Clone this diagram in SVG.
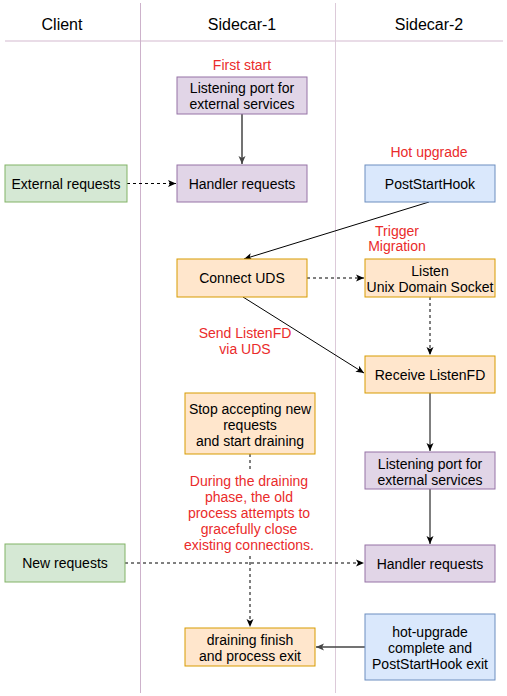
<svg xmlns="http://www.w3.org/2000/svg" width="507" height="696" viewBox="0 0 507 696">
<style>
.t{font-family:"Liberation Sans",Arial,Helvetica,sans-serif;font-size:14px;fill:#000;text-anchor:middle}
.h{font-family:"Liberation Sans",Arial,Helvetica,sans-serif;font-size:16px;fill:#000;text-anchor:middle}
.r{font-family:"Liberation Sans",Arial,Helvetica,sans-serif;font-size:14px;fill:#EA2B2B;text-anchor:middle}
.p{fill:#e1d5e7;stroke:#9673a6;stroke-width:1}
.g{fill:#d5e8d4;stroke:#82b366;stroke-width:1}
.b{fill:#dae8fc;stroke:#6c8ebf;stroke-width:1}
.o{fill:#ffe6cc;stroke:#d79b00;stroke-width:1}
.e{fill:none;stroke:#000;stroke-width:1}
.d{fill:none;stroke:#000;stroke-width:1;stroke-dasharray:3 3}
.gr{fill:none;stroke:#444;stroke-width:1.5}
</style>
<defs>
<marker id="a" markerWidth="10" markerHeight="10" refX="9" refY="5" orient="auto" markerUnits="userSpaceOnUse">
<path d="M1,1.5 L9,5 L1,8.5 L3,5 Z" fill="#000"/>
</marker>
<marker id="ag" markerWidth="10" markerHeight="10" refX="9" refY="5" orient="auto" markerUnits="userSpaceOnUse">
<path d="M1,1.5 L9,5 L1,8.5 L3,5 Z" fill="#444"/>
</marker>
</defs>
<rect x="0" y="0" width="507" height="696" fill="#fff"/>
<g id="lanes">
<line x1="5" y1="41" x2="503" y2="41" stroke="#E2D0DF" stroke-width="1.5"/>
<line x1="140.5" y1="3" x2="140.5" y2="693" stroke="#CDB2CB" stroke-width="1"/>
<line x1="335.5" y1="3" x2="335.5" y2="693" stroke="#DCCAD9" stroke-width="1"/>
<text class="h" x="62" y="29.5">Client</text>
<text class="h" x="242" y="29.5">Sidecar-1</text>
<text class="h" x="429" y="29.5">Sidecar-2</text>
</g>
<g id="labels">
<text class="r" x="242" y="70">First start</text>
<text class="r" x="429" y="157">Hot upgrade</text>
<text class="r" x="397" y="236">Trigger</text>
<text class="r" x="397" y="251">Migration</text>
<text class="r" x="245" y="338">Send ListenFD</text>
<text class="r" x="245" y="354">via UDS</text>
</g>
<g id="connectors">
<line class="gr" x1="242" y1="114" x2="242" y2="164" marker-end="url(#ag)"/>
<line class="d" x1="127" y1="183.5" x2="176" y2="183.5" marker-end="url(#a)"/>
<line class="e" x1="429" y1="202" x2="244" y2="259" marker-end="url(#a)"/>
<line class="d" x1="307" y1="278" x2="364" y2="278" marker-end="url(#a)"/>
<line class="d" x1="430" y1="297" x2="430" y2="355" marker-end="url(#a)"/>
<line class="e" x1="243" y1="297" x2="364" y2="373" marker-end="url(#a)"/>
<line class="e" x1="430" y1="393" x2="430" y2="451" marker-end="url(#a)"/>
<line class="e" x1="430" y1="489" x2="430" y2="544" marker-end="url(#a)"/>
<line class="d" x1="250" y1="454" x2="250" y2="627" marker-end="url(#a)"/>
<line class="d" x1="125" y1="563" x2="364" y2="563" marker-end="url(#a)"/>
<line class="gr" x1="365" y1="647" x2="316" y2="647" marker-end="url(#ag)"/>
</g>
<g id="drain-label">
<rect x="182" y="470" width="136" height="84" fill="#fff"/>
<text class="r" x="249" y="486">During the draining</text>
<text class="r" x="249" y="502">phase, the old</text>
<text class="r" x="249" y="518">process attempts to</text>
<text class="r" x="249" y="534">gracefully close</text>
<text class="r" x="249" y="550">existing connections.</text>
</g>
<g id="listen1">
<rect class="p" x="177" y="77" width="130" height="37"/>
<text class="t" x="242" y="93">Listening port for</text>
<text class="t" x="242" y="109">external services</text>
</g>
<g id="ext">
<rect class="g" x="5" y="165" width="122" height="37"/>
<text class="t" x="66" y="188.5">External requests</text>
</g>
<g id="handler1">
<rect class="p" x="177" y="165" width="130" height="37"/>
<text class="t" x="242" y="188.5">Handler requests</text>
</g>
<g id="poststart">
<rect class="b" x="365" y="165" width="130" height="37"/>
<text class="t" x="430" y="188.5">PostStartHook</text>
</g>
<g id="connect">
<rect class="o" x="177" y="259" width="130" height="38"/>
<text class="t" x="242" y="283">Connect UDS</text>
</g>
<g id="listenuds">
<rect class="o" x="365" y="259" width="130" height="38"/>
<text class="t" x="430" y="276">Listen</text>
<text class="t" x="430" y="292">Unix Domain Socket</text>
</g>
<g id="receive">
<rect class="o" x="365" y="356" width="130" height="37"/>
<text class="t" x="430" y="379.5">Receive ListenFD</text>
</g>
<g id="stop">
<rect class="o" x="185" y="393" width="130" height="61"/>
<text class="t" x="250" y="414">Stop accepting new</text>
<text class="t" x="250" y="430">requests</text>
<text class="t" x="250" y="446">and start draining</text>
</g>
<g id="listen2">
<rect class="p" x="365" y="452" width="130" height="37"/>
<text class="t" x="430" y="469">Listening port for</text>
<text class="t" x="430" y="485">external services</text>
</g>
<g id="newreq">
<rect class="g" x="5" y="544" width="120" height="38"/>
<text class="t" x="65" y="568">New requests</text>
</g>
<g id="handler2">
<rect class="p" x="365" y="545" width="130" height="37"/>
<text class="t" x="430" y="568.5">Handler requests</text>
</g>
<g id="drainfinish">
<rect class="o" x="185" y="628" width="130" height="38"/>
<text class="t" x="250" y="645">draining finish</text>
<text class="t" x="250" y="661">and process exit</text>
</g>
<g id="complete">
<rect class="b" x="365" y="614" width="130" height="66"/>
<text class="t" x="430" y="637">hot-upgrade</text>
<text class="t" x="430" y="653">complete and</text>
<text class="t" x="430" y="669">PostStartHook exit</text>
</g>
</svg>
